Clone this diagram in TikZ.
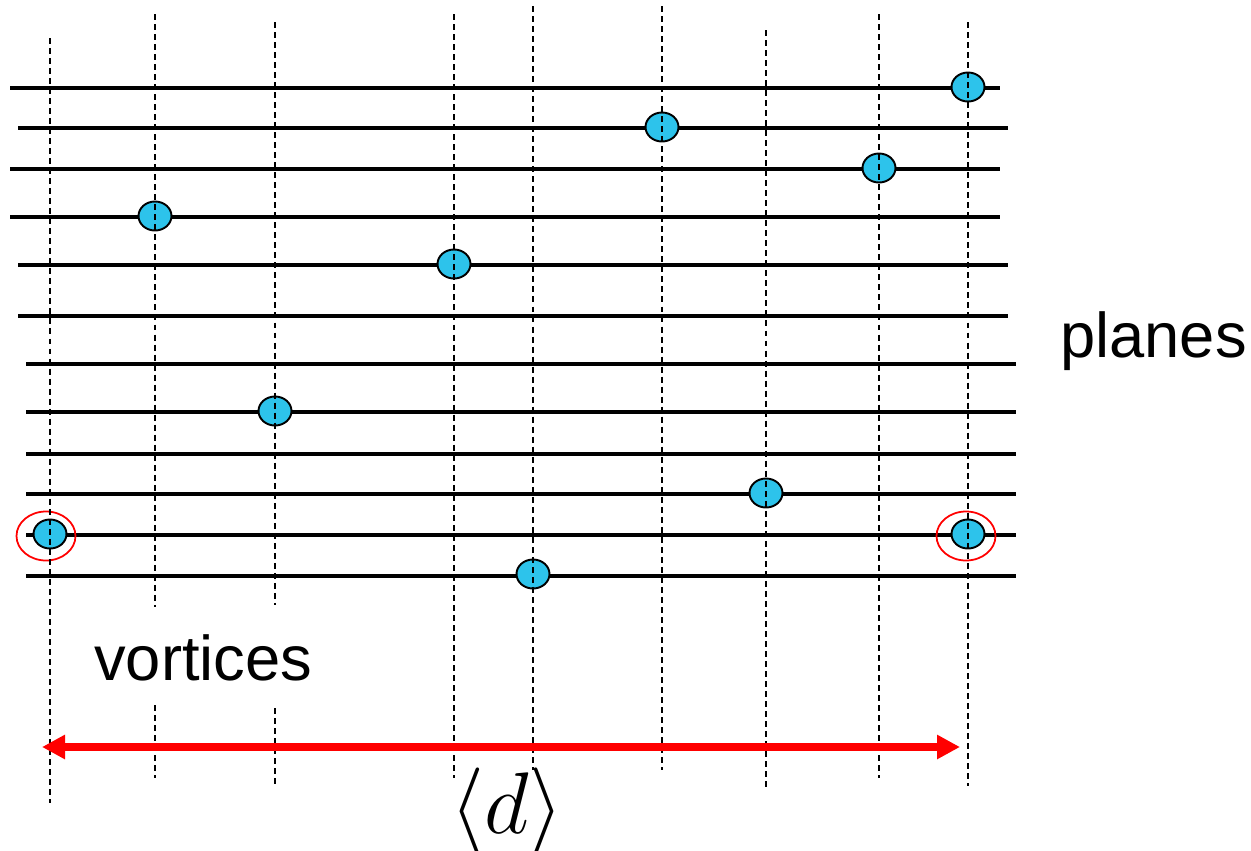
\documentclass[tikz,border=0pt]{standalone}
\usepackage{fontspec}
\setmainfont{Liberation Sans}
\usetikzlibrary{shapes.geometric,arrows.meta}
\definecolor{vortexblue}{RGB}{45,195,235}

\begin{document}
\begin{tikzpicture}[x=0.2mm, y=-0.2mm,
    plane/.style={line width=2pt},
    axis/.style={line width=1.1pt, dash pattern=on 3.4pt off 2.3pt},
    vortex/.style={ellipse, draw, line width=1.1pt, fill=vortexblue, inner sep=0pt, minimum width=6.6mm, minimum height=5.8mm},
    ring/.style={ellipse, draw=red, line width=1pt, inner sep=0pt, minimum width=11.8mm, minimum height=9.8mm}]
    \useasboundingbox (0,0) rectangle (1251,851);

    % planes
    \foreach \y/\xa/\xb in {88/10/1000, 128/18/1008, 169/10/1000, 217/10/1000, 265/18/1008, 316/18/1008,
                            364/26/1016, 412/26/1016, 454/26/1016, 494/26/1016, 535/26/1016, 576/26/1016}
        \draw[plane] (\xa,\y) -- (\xb,\y);

    % vortices
    \node[vortex] (v1) at (968,87) {};
    \node[vortex] (v2) at (662,127) {};
    \node[vortex] (v3) at (879,168) {};
    \node[vortex] (v4) at (155,216) {};
    \node[vortex] (v5) at (454,264) {};
    \node[vortex] (v6) at (275,411) {};
    \node[vortex] (v7) at (766,493) {};
    \node[vortex] (v8) at (50,534) {};
    \node[vortex] (v9) at (968,534) {};
    \node[vortex] (v10) at (533,574) {};
    \node[ring] (r1) at (46,536) {};
    \node[ring] (r2) at (966,536) {};

    % vortex lines
    \draw[axis] (50,38) -- (50,803);
    \draw[axis] (155,14) -- (155,607) (155,705) -- (155,778);
    \draw[axis] (275,22) -- (275,605) (275,708) -- (275,786);
    \draw[axis] (454,14) -- (454,778);
    \draw[axis] (533,6) -- (533,770);
    \draw[axis] (662,6) -- (662,770);
    \draw[axis] (766,30) -- (766,790);
    \draw[axis] (879,14) -- (879,778);
    \draw[axis] (968,22) -- (968,786);

    % spacing
    \coordinate (dl) at (42,747);
    \coordinate (dr) at (960,747);
    \draw[red, line width=4.3pt, {Triangle[length=4.6mm,width=4.6mm]}-{Triangle[length=4.6mm,width=4.6mm]}] (dl) -- (dr);

    \node[anchor=base west, inner sep=0pt, font=\fontsize{36}{40}\selectfont] (planes) at (1060,357) {planes};
    \node[anchor=base west, inner sep=0pt, font=\fontsize{36}{40}\selectfont] (vortices) at (94,680) {vortices};
    \node[inner sep=0pt, scale=2, font=\fontsize{23}{26}\selectfont] (d) at (507,812) {$\Big\langle d \Big\rangle$};
\end{tikzpicture}
\end{document}
